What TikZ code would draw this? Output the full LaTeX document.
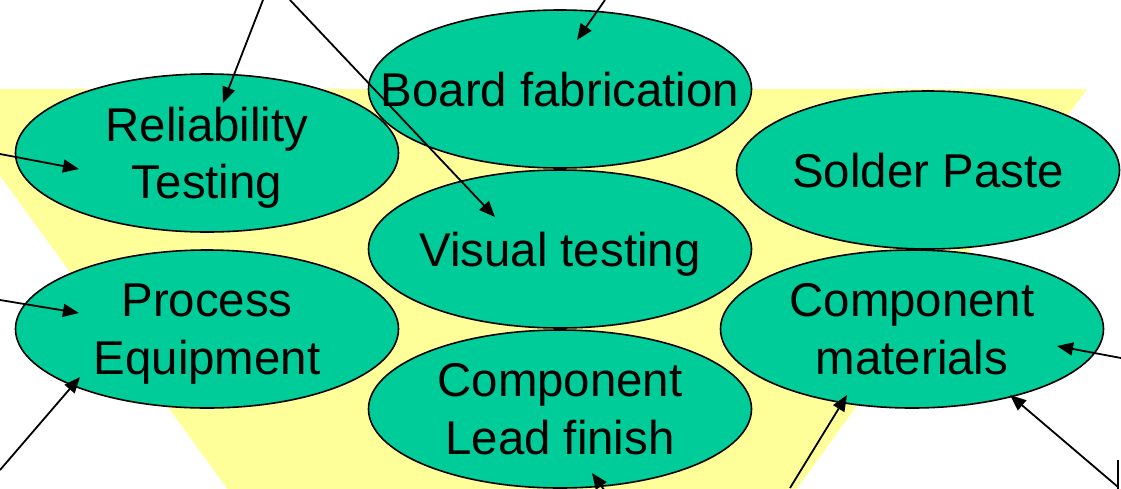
\documentclass[tikz,border=0pt]{standalone}
\usepackage{fontspec}
\setmainfont{Liberation Sans}
\usetikzlibrary{arrows.meta,shapes.geometric}

\definecolor{leaf}{HTML}{00CC99}
\definecolor{funnel}{HTML}{FFFF99}

% a line whose descenders do not count in the box depth
\newcommand{\flatline}[1]{\raisebox{0pt}[\height][0pt]{#1}}

\begin{document}
\begin{tikzpicture}[x=1pt,y=-1pt,
  blob/.style={ellipse,draw=black,line width=1.6pt,fill=leaf,
    minimum width=383pt,minimum height=158pt,inner sep=0pt},
  caption/.style={font=\fontsize{47.4}{57.6}\selectfont,align=center,
    inner sep=0pt,text=black},
  feed/.style={line width=1.8pt,draw=black,
    -{Triangle[length=16pt,width=13pt]}}]

\useasboundingbox (0,0) rectangle (1121,488);
\clip (0,0) rectangle (1121,488);

% funnel behind the ellipses
\fill[funnel] (-63,89) -- (1087,89) -- (774,520) -- (250,520) -- cycle;

% ellipses
\node[blob] (rel)   at (207,153) {};
\node[blob] (proc)  at (207,329) {};
\node[blob] (board) at (560,89)  {};
\node[blob] (vis)   at (560,249) {};
\node[blob] (lead)  at (560,409) {};
\node[blob] (paste) at (928,170) {};
\node[blob] (mat)   at (912,329) {};

% captions
\node[caption] (rel-t)   at (rel)   {Reliability\\\flatline{Testing}};
\node[caption] (proc-t)  at (proc)  {Process\\\flatline{Equipment}};
\node[caption] (board-t) at (board) {\flatline{Board fabrication}};
\node[caption] (vis-t)   at (vis)   {\flatline{Visual testing}};
\node[caption] (lead-t)  at (lead)  {Component\\\flatline{Lead finish}};
\node[caption] (paste-t) at (paste) {\flatline{Solder Paste}};
\node[caption] (mat-t)   at (mat)   {Component\\\flatline{materials}};

% free ends of the incoming arrows
\coordinate (a1) at (263,0);
\coordinate (a2) at (290,0);
\coordinate (a3) at (605,0);
\coordinate (a4) at (0,154);
\coordinate (a5) at (0,300);
\coordinate (a6) at (0,470);
\coordinate (a7) at (627,522);
\coordinate (a8) at (790,488);
\coordinate (a9) at (1121,358);
\coordinate (a10) at (1118,487);
\coordinate (edgeTop) at (1118,460);
\coordinate (edgeBot) at (1118,490);

% arrow tips inside the ellipses
\coordinate (rel-in1)  at (223,103);
\coordinate (rel-in2)  at (79,169);
\coordinate (vis-in)   at (495,217);
\coordinate (board-in) at (577,40);
\coordinate (proc-in1) at (79,313);
\coordinate (proc-in2) at (80,377);
\coordinate (lead-in)  at (592,473);
\coordinate (mat-in1)  at (847,395);
\coordinate (mat-in2)  at (1057,346);
\coordinate (mat-in3)  at (1010,395);

% connectors
\draw[feed] (a1) -- (rel-in1);
\draw[feed] (a2) -- (vis-in);
\draw[feed] (a3) -- (board-in);
\draw[feed] (a4) -- (rel-in2);
\draw[feed] (a5) -- (proc-in1);
\draw[feed] (a6) -- (proc-in2);
\draw[feed] (a7) -- (lead-in);
\draw[feed] (a8) -- (mat-in1);
\draw[feed] (a9) -- (mat-in2);
\draw[feed] (a10) -- (mat-in3);
\draw[line width=1.8pt] (edgeTop) -- (edgeBot);
\end{tikzpicture}
\end{document}
